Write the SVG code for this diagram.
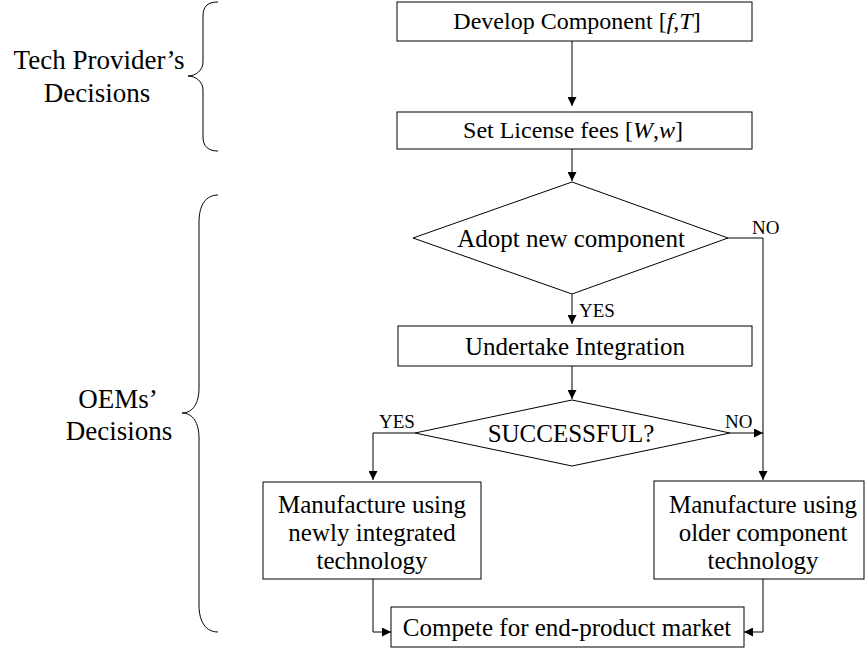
<svg xmlns="http://www.w3.org/2000/svg" width="865" height="651" viewBox="0 0 865 651">
<style>
  text { font-family: "Liberation Serif", "Times New Roman", serif; fill: #000; }
  .box { fill: #fff; stroke: #000; stroke-width: 1; }
  .t { font-size: 25px; text-anchor: middle; }
  .tt { font-size: 24px; text-anchor: middle; }
  .lbl { font-size: 19px; }
  .side { font-size: 27px; text-anchor: middle; }
  .ln { fill: none; stroke: #000; stroke-width: 1; }
  .brace { fill: none; stroke: #000; stroke-width: 1; }
</style>
<defs>
  <marker id="arr" viewBox="0 0 10 10" refX="10" refY="5" markerWidth="10" markerHeight="9" markerUnits="userSpaceOnUse" orient="auto">
    <path d="M0,0 L10,5 L0,10 Z" fill="#000"/>
  </marker>
</defs>
<rect width="865" height="651" fill="#fff"/>

<g id="brace-tech">
  <path class="brace" d="M218,2 C208,2 203,6 203,16 L203,62 C203,70 196,76 188,76 C196,76 203,82 203,90 L203,137 C203,146 208,151 218,151"/>
  <text class="side" x="99" y="69">Tech Provider’s</text>
  <text class="side" x="97" y="102">Decisions</text>
</g>
<g id="brace-oem">
  <path class="brace" d="M218,195 C206,195 199,205 199,222 L199,388 C199,403 193,413 182,413 C193,413 199,423 199,438 L199,605 C199,622 206,632 218,632"/>
  <text class="side" x="118" y="408">OEMs’</text>
  <text class="side" x="119" y="440">Decisions</text>
</g>

<g id="connectors">
  <path class="ln" d="M572,41 L572,106" marker-end="url(#arr)"/>
  <path class="ln" d="M572,149 L572,181" marker-end="url(#arr)"/>
  <path class="ln" d="M572,294 L572,324" marker-end="url(#arr)"/>
  <path class="ln" d="M572,366 L572,399" marker-end="url(#arr)"/>
  <path class="ln" d="M728,238 L763,238 L763,480" marker-end="url(#arr)"/>
  <path class="ln" d="M415,433 L373,433 L373,480" marker-end="url(#arr)"/>
  <path class="ln" d="M730,433 L763,433" marker-end="url(#arr)"/>
  <path class="ln" d="M373,579 L373,632 L391,632" marker-end="url(#arr)"/>
  <path class="ln" d="M763,579 L763,632 L744,632" marker-end="url(#arr)"/>
  <text class="lbl" x="752" y="234">NO</text>
  <text class="lbl" x="579" y="317">YES</text>
  <text class="lbl" x="379" y="428">YES</text>
  <text class="lbl" x="725" y="428">NO</text>
</g>

<g id="develop">
  <rect class="box" x="397" y="2" width="355" height="39"/>
  <text class="tt" x="577" y="29">Develop Component [<tspan font-style="italic">f</tspan>,<tspan font-style="italic">T</tspan>]</text>
</g>
<g id="license">
  <rect class="box" x="397" y="112" width="355" height="37"/>
  <text class="tt" x="573" y="138">Set License fees [<tspan font-style="italic">W</tspan>,<tspan font-style="italic">w</tspan>]</text>
</g>
<g id="adopt">
  <polygon class="box" points="572,182 728,238 572,294 413,238"/>
  <text class="t" x="571" y="247">Adopt new component</text>
</g>
<g id="integrate">
  <rect class="box" x="398" y="326" width="354" height="40"/>
  <text class="t" x="575" y="355">Undertake Integration</text>
</g>
<g id="successful">
  <polygon class="box" points="572,400 730,433 572,466 415,433"/>
  <text class="t" x="571" y="442">SUCCESSFUL?</text>
</g>
<g id="manuf-new">
  <rect class="box" x="263" y="482" width="218" height="97"/>
  <text class="t" x="372" y="513">Manufacture using</text>
  <text class="t" x="372" y="541">newly integrated</text>
  <text class="t" x="372" y="569">technology</text>
</g>
<g id="manuf-old">
  <rect class="box" x="654" y="481" width="210" height="98"/>
  <text class="t" x="763" y="513">Manufacture using</text>
  <text class="t" x="763" y="541">older component</text>
  <text class="t" x="763" y="569">technology</text>
</g>
<g id="compete">
  <rect class="box" x="391" y="607" width="353" height="40"/>
  <text class="t" x="567" y="636">Compete for end-product market</text>
</g>
</svg>
